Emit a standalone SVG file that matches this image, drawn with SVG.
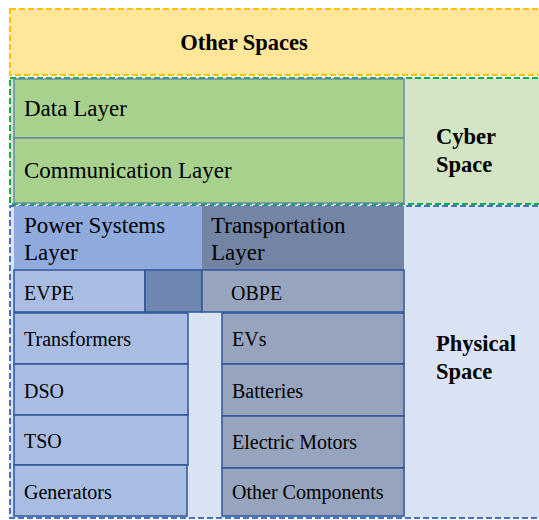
<svg xmlns="http://www.w3.org/2000/svg" width="539" height="520" viewBox="0 0 539 520">
<style>
text{font-family:'Liberation Serif','Tinos','DejaVu Serif',serif;fill:#000}
.big{font-size:23px}
.sm{font-size:20px}
.bold{font-size:22.5px;font-weight:bold}
.cell{stroke:#2F5597;stroke-width:1.5}
.green{fill:#A9D18E;stroke:#6B8BA4;stroke-width:1.5}
.pw{fill:#A9BDE3}
.tr{fill:#97A4BE}
</style>
<g id="other-spaces">
<rect x="10" y="9" width="535" height="66" fill="#FFE699" stroke="#FFC000" stroke-width="2" stroke-dasharray="6,3"/>
<text class="bold" x="244" y="50" text-anchor="middle">Other Spaces</text>
</g>
<g id="cyber-space">
<rect x="10" y="78" width="535" height="126" fill="#D3E5C4" stroke="#00B050" stroke-width="2" stroke-dasharray="6,3"/>
<text class="bold" x="436" y="144">Cyber</text>
<text class="bold" x="436" y="172">Space</text>
</g>
<g id="physical-space">
<rect x="10" y="206" width="535" height="312" fill="#DAE3F3" stroke="#4472C4" stroke-width="2" stroke-dasharray="6,3"/>
<text class="bold" x="436" y="351">Physical</text>
<text class="bold" x="436" y="379">Space</text>
</g>
<g id="data-layer">
<rect class="green" x="14" y="79" width="390" height="59"/>
<text class="big" x="24" y="116">Data Layer</text>
</g>
<g id="communication-layer">
<rect class="green" x="14" y="138" width="390" height="65"/>
<text class="big" x="24" y="178">Communication Layer</text>
</g>
<g id="power-systems-layer">
<rect x="14" y="206" width="188" height="64" fill="#8FAADC"/>
<text class="big" x="24" y="233">Power Systems</text>
<text class="big" x="24" y="260">Layer</text>
</g>
<g id="transportation-layer">
<rect x="202" y="206" width="202" height="64" fill="#7384A4"/>
<text class="big" x="211" y="233">Transportation</text>
<text class="big" x="211" y="260">Layer</text>
</g>
<g id="evpe">
<rect class="cell pw" x="14" y="270" width="131" height="42"/>
<rect class="cell" x="145" y="270" width="57" height="42" fill="#6E86B0"/>
<text class="sm" x="24" y="300">EVPE</text>
</g>
<g id="obpe">
<rect class="cell tr" x="202" y="270" width="202" height="42"/>
<text class="sm" x="231" y="300">OBPE</text>
</g>
<g id="transformers"><rect class="cell pw" x="14" y="313" width="174" height="51"/><text class="sm" x="24" y="346">Transformers</text></g>
<g id="dso"><rect class="cell pw" x="14" y="364" width="174" height="51"/><text class="sm" x="24" y="398">DSO</text></g>
<g id="tso"><rect class="cell pw" x="14" y="415" width="174" height="50"/><text class="sm" x="24" y="448">TSO</text></g>
<g id="generators"><rect class="cell pw" x="14" y="465" width="173" height="51"/><text class="sm" x="24" y="499">Generators</text></g>
<g id="evs"><rect class="cell tr" x="222" y="313" width="182" height="51"/><text class="sm" x="232" y="346">EVs</text></g>
<g id="batteries"><rect class="cell tr" x="222" y="364" width="182" height="52"/><text class="sm" x="232" y="398">Batteries</text></g>
<g id="electric-motors"><rect class="cell tr" x="222" y="416" width="182" height="52"/><text class="sm" x="232" y="449">Electric Motors</text></g>
<g id="other-components"><rect class="cell tr" x="222" y="468" width="182" height="48"/><text class="sm" x="232" y="499">Other Components</text></g>
<g id="connectors"></g>
</svg>
